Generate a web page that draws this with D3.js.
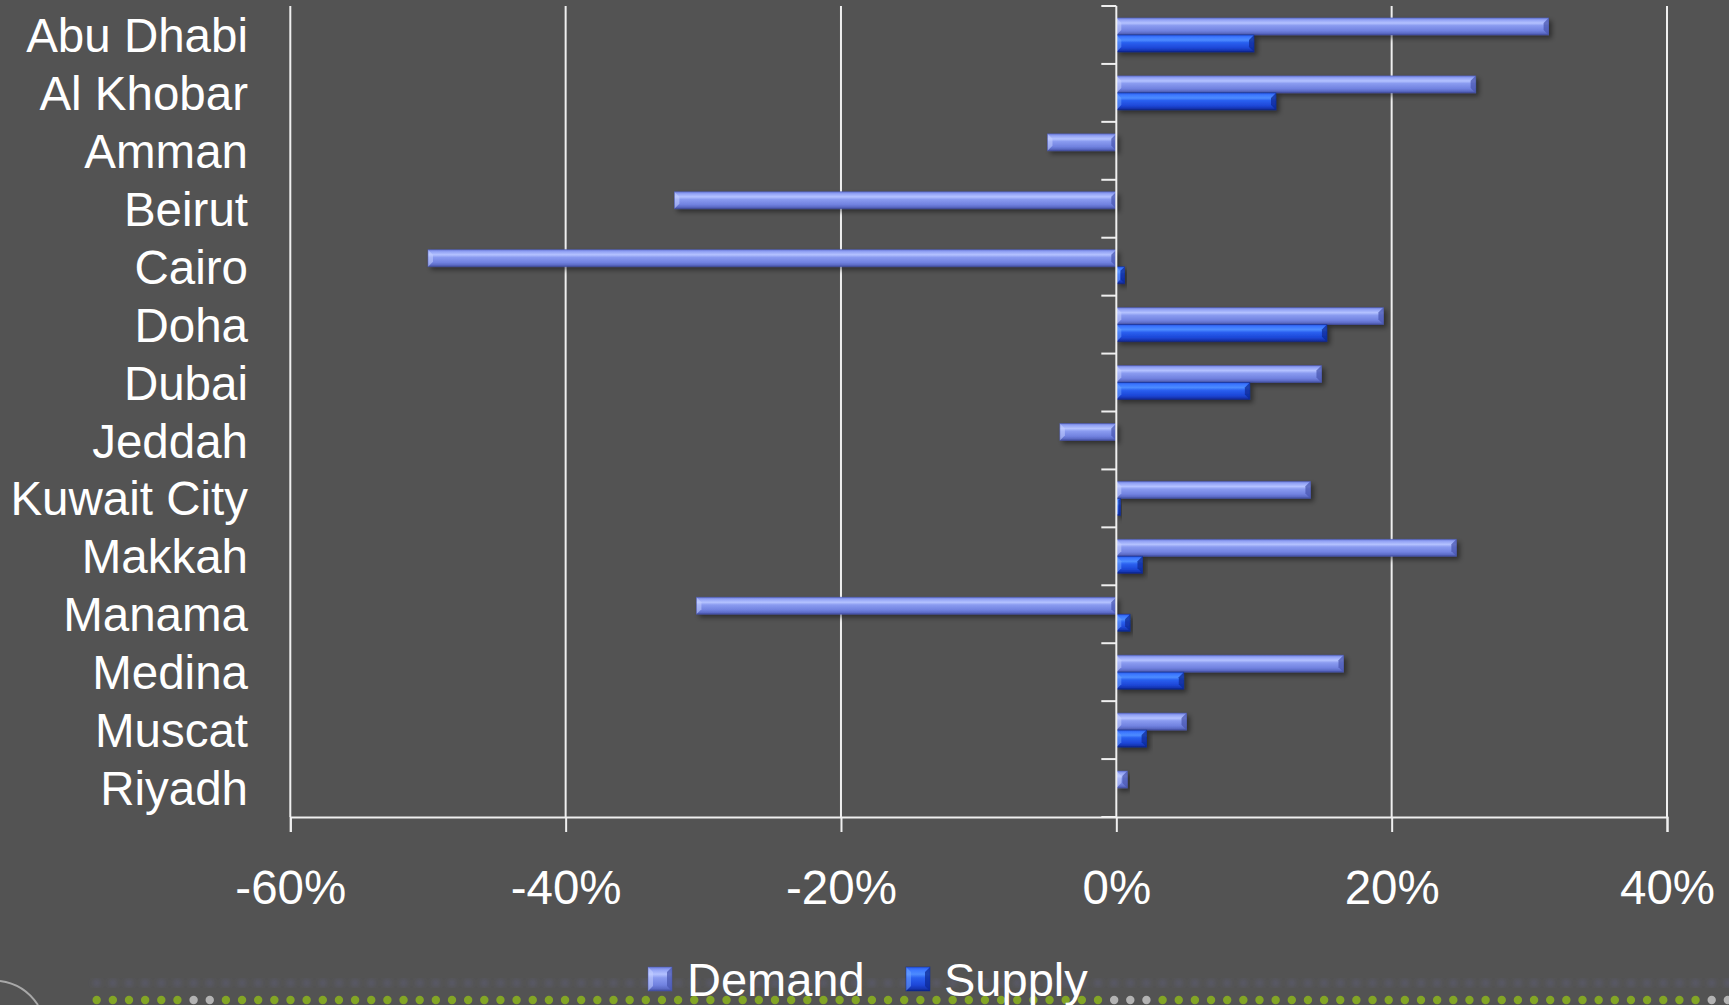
<!DOCTYPE html>
<html>
<head>
<meta charset="utf-8">
<script src="https://cdn.jsdelivr.net/npm/d3@7"></script>
<style>
  html, body { margin: 0; padding: 0; background: #535353; }
  svg { display: block; }
  text { font-family: "Liberation Sans", Arial, sans-serif; fill: #fff; }
</style>
</head>
<body>
<svg id="chart" width="1729" height="1005"></svg>
<script>
// data (percent)
var cities = ['Abu Dhabi','Al Khobar','Amman','Beirut','Cairo','Doha','Dubai','Jeddah','Kuwait City','Makkah','Manama','Medina','Muscat','Riyadh'];
var demand = [31.4, 26.1, -5.0, -32.1, -50.0, 19.4, 14.9, -4.1, 14.1, 24.7, -30.5, 16.5, 5.1, 0.8];
var supply = [10.0, 11.6, 0, 0, 0.6, 15.3, 9.7, 0, 0.3, 1.9, 1.0, 4.9, 2.2, 0];
var seriesNames = ['Demand', 'Supply'];
var xTicks = [-60, -40, -20, 0, 20, 40];

(function () {
	var left = 290.3, right = 1667, top = 6, bottom = 817,
		svg = d3.select('#chart'),
		defs = svg.append('defs'),

		// gradient stops: [offset, colour]
		looks = {
			Demand: {stops: [[0,'#6c7ddc'],[0.12,'#93a3f5'],[0.3,'#b4c2ff'],[0.45,'#8a9bf0'],[0.75,'#7182e0'],[0.9,'#5c6bc6'],[1,'#3f4b9c']],
				light: '#c4d0ff', dark: '#4a57b0'},
			Supply: {stops: [[0,'#2a5ae8'],[0.12,'#3c77ff'],[0.3,'#4d8cff'],[0.45,'#2a60f0'],[0.75,'#1d47d8'],[0.9,'#1636b4'],[1,'#0b2282']],
				light: '#6fa2ff', dark: '#0d2a96'}
		},

		x = d3.scaleLinear().domain([-60, 40]).range([left, right]),
		y = d3.scaleBand().domain(cities).range([top, bottom]).padding(0),
		ys = d3.scaleBand().domain(seriesNames).range([0, y.bandwidth()]).paddingInner(0).paddingOuter(0.7),

		rows = cities.map(function (c, i) {
			return {city: c, vals: [{s: 'Demand', v: demand[i]}, {s: 'Supply', v: supply[i]}]};
		});

	seriesNames.forEach(function (s) {
		var g = defs.append('linearGradient').attr('id', 'g' + s)
			.attr('x1', 0).attr('y1', 0).attr('x2', 0).attr('y2', 1);
		looks[s].stops.forEach(function (st) {
			g.append('stop').attr('offset', st[0]).attr('stop-color', st[1]);
		});
	});

	defs.append('filter').attr('id', 'shadow')
		.attr('x', '-10%').attr('y', '-30%').attr('width', '130%').attr('height', '180%')
		.append('feDropShadow')
		.attr('dx', 3).attr('dy', 3).attr('stdDeviation', 2.5)
		.attr('flood-color', '#000').attr('flood-opacity', 0.45);

	defs.append('filter').attr('id', 'soft')
		.append('feGaussianBlur').attr('stdDeviation', 2.5);

	// gridlines
	svg.append('g').selectAll('line')
		.data(xTicks.filter(function (t) { return t !== 0; }))
		.enter().append('line')
		.attr('x1', function (d) { return x(d); }).attr('x2', function (d) { return x(d); })
		.attr('y1', top).attr('y2', bottom)
		.attr('stroke', '#efefef').attr('stroke-width', 2);

	// x axis
	var xAxis = svg.append('g')
		.attr('transform', 'translate(0,' + bottom + ')')
		.call(d3.axisBottom(x).tickValues(xTicks).tickSize(15).tickPadding(38)
			.tickFormat(function (d) { return d + '%'; }));
	xAxis.select('.domain').attr('stroke', '#efefef').attr('stroke-width', 2);
	xAxis.selectAll('.tick line').attr('stroke', '#efefef').attr('stroke-width', 2);
	xAxis.selectAll('.tick text').attr('font-size', 47.5).attr('fill', '#fff')
		.style('font-family', '"Liberation Sans", Arial, sans-serif');

	// bevelled bars
	function drawBar(g, x0, x1, y0, h, look) {
		var w = x1 - x0, c = Math.min(5, w / 2);
		g.append('rect').attr('x', x0).attr('y', y0).attr('width', w).attr('height', h)
			.attr('fill', 'url(#g' + look + ')');
		// left chamfer (lit)
		g.append('path')
			.attr('d', 'M' + x0 + ',' + y0 + 'L' + (x0 + c) + ',' + (y0 + c) + 'L' + (x0 + c) + ',' + (y0 + h - c) + 'L' + x0 + ',' + (y0 + h) + 'Z')
			.attr('fill', looks[look].light).attr('opacity', 0.55);
		// right chamfer (shaded)
		g.append('path')
			.attr('d', 'M' + x1 + ',' + y0 + 'L' + (x1 - c) + ',' + (y0 + c) + 'L' + (x1 - c) + ',' + (y0 + h - c) + 'L' + x1 + ',' + (y0 + h) + 'Z')
			.attr('fill', looks[look].dark).attr('opacity', 0.75);
		g.append('rect').attr('x', x0).attr('y', y0).attr('width', w).attr('height', h)
			.attr('fill', 'none').attr('stroke', looks[look].dark).attr('stroke-width', 0.8).attr('opacity', 0.6);
	}

	var rowG = svg.append('g').selectAll('g.row')
		.data(rows).enter().append('g')
		.attr('class', 'row')
		.attr('transform', function (d) { return 'translate(0,' + y(d.city) + ')'; });

	rowG.each(function (d) {
		var gr = d3.select(this);
		d.vals.forEach(function (b) {
			if (b.v === 0) return;
			var bg = gr.append('g').attr('filter', 'url(#shadow)');
			drawBar(bg, x(Math.min(0, b.v)), x(Math.max(0, b.v)), ys(b.s), ys.bandwidth(), b.s);
		});
	});

	// y axis at zero
	var yAxis = svg.append('g');
	yAxis.append('line')
		.attr('x1', x(0)).attr('x2', x(0)).attr('y1', top).attr('y2', bottom)
		.attr('stroke', '#efefef').attr('stroke-width', 2);
	yAxis.selectAll('line.tk')
		.data(cities.concat(['_end']))
		.enter().append('line').attr('class', 'tk')
		.attr('x1', x(0) - 15).attr('x2', x(0))
		.attr('y1', function (d, i) { return top + i * y.step(); })
		.attr('y2', function (d, i) { return top + i * y.step(); })
		.attr('stroke', '#efefef').attr('stroke-width', 2);

	// category labels
	svg.append('g').selectAll('text')
		.data(cities).enter().append('text')
		.attr('x', 248)
		.attr('y', function (d) { return y(d) + y.bandwidth() / 2; })
		.attr('dy', '0.36em')
		.attr('text-anchor', 'end')
		.attr('font-size', 47.5)
		.text(function (d) { return d; });

	// decorative slide footer: arc, faint reflection and dotted line
	svg.append('path').attr('d', 'M0,981 Q24,984 38,1005')
		.attr('fill', 'none').attr('stroke', '#a8a8a8').attr('stroke-width', 2);
	var dotIdx = d3.range(0, 102),
		greys = [6, 7, 63, 64, 65, 100, 101],
		dotX = function (i) { return 96.7 + i * 16.15; };
	svg.append('g').attr('filter', 'url(#soft)').selectAll('circle')
		.data(dotIdx).enter().append('circle')
		.attr('cx', dotX).attr('cy', 983).attr('r', 4)
		.attr('fill', '#6b6a9c').attr('opacity', 0.3);
	svg.append('g').selectAll('circle')
		.data(dotIdx).enter().append('circle')
		.attr('cx', dotX)
		.attr('cy', 1000)
		.attr('r', 4.2)
		.attr('fill', function (i) { return greys.indexOf(i) >= 0 ? '#c4c4c4' : '#8cb41e'; })
		.attr('opacity', 0.85);

	// legend
	var legend = svg.append('g');
	var legX = [648, 906], textX = [687, 944];
	seriesNames.forEach(function (s, i) {
		var lg = legend.append('g');
		drawBar(lg, legX[i], legX[i] + 24, 967, 24, s);
		lg.append('text').attr('x', textX[i]).attr('y', 996)
			.attr('font-size', 47).text(s);
	});
})();
</script>
</body>
</html>
